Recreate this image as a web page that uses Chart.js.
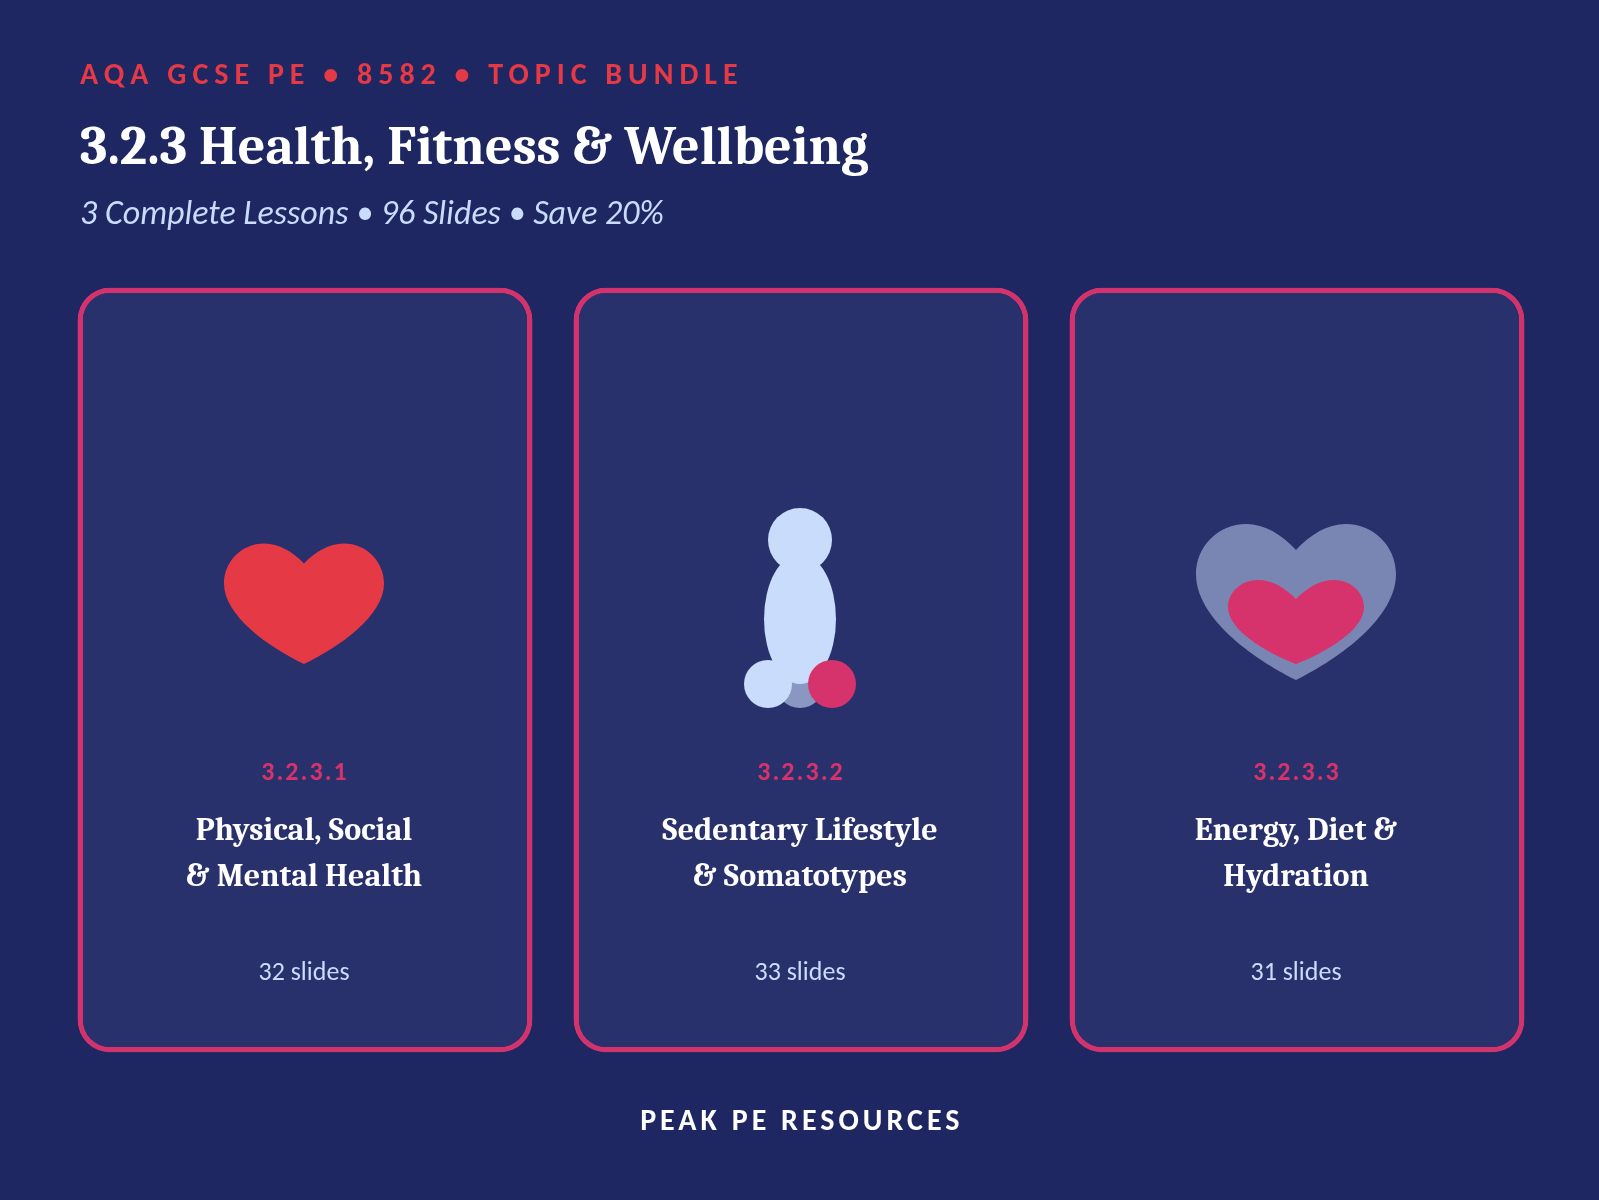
<!DOCTYPE html>
<html><head><meta charset="utf-8">
<style>html,body{margin:0;padding:0;background:#1E2761}canvas{display:block}</style>
<script src="https://cdn.jsdelivr.net/npm/chart.js@4/dist/chart.umd.js"></script>
</head><body>
<canvas id="c" width="1599" height="1200"></canvas>
<script>
const sectionCodes = ['3.2.3.1', '3.2.3.2', '3.2.3.3'];
const lessonTitles = [['Physical, Social', '& Mental Health'], ['Sedentary Lifestyle', '& Somatotypes'], ['Energy, Diet &', 'Hydration']];
const slideCounts = [32, 33, 31];
const cardsPerLesson = [1, 1, 1];
const eyebrowText = 'AQA GCSE PE • 8582 • TOPIC BUNDLE';
const titleText = '3.2.3 Health, Fitness & Wellbeing';
const subtitleText = '3 Complete Lessons • 96 Slides • Save 20%';
const footerText = 'PEAK PE RESOURCES';

const NAVY = '#1E2761', CARD = '#29316C', RED = '#E63946', PINK = '#D6336C', BORDER = '#D1336D', ICE = '#CADCFC', WHITE = '#FFFFFF';
const SANS = 'Carlito, Calibri, Lato, sans-serif', SERIF = 'Caladea, Cambria, "Liberation Serif", serif';

function text(ctx, str, x, y, font, color, align, spacing) {
  ctx.font = font; ctx.fillStyle = color; ctx.textAlign = align || 'left';
  ctx.textBaseline = 'alphabetic'; ctx.letterSpacing = (spacing || 0) + 'px';
  ctx.fillText(str, x, y);
  ctx.letterSpacing = '0px';
}
function heart(ctx, cx, top, hw, h, notch, lobe, widest, color) {
  const lx = hw * lobe, k = 0.5523;
  ctx.fillStyle = color; ctx.beginPath(); ctx.moveTo(cx, top + notch);
  ctx.bezierCurveTo(cx - lx * 0.28, top + notch * 0.42, cx - lx * 0.62, top, cx - lx, top);
  ctx.bezierCurveTo(cx - (lx + (hw - lx) * k), top, cx - hw, top + widest * (1 - k), cx - hw, top + widest);
  ctx.bezierCurveTo(cx - hw, top + h * 0.6, cx - hw * 0.44, top + h * 0.86, cx, top + h);
  ctx.bezierCurveTo(cx + hw * 0.44, top + h * 0.86, cx + hw, top + h * 0.6, cx + hw, top + widest);
  ctx.bezierCurveTo(cx + hw, top + widest * (1 - k), cx + (lx + (hw - lx) * k), top, cx + lx, top);
  ctx.bezierCurveTo(cx + lx * 0.62, top, cx + lx * 0.28, top + notch * 0.42, cx, top + notch);
  ctx.closePath(); ctx.fill();
}
function disc(ctx, x, y, rx, ry, color) {
  ctx.fillStyle = color; ctx.beginPath(); ctx.ellipse(x, y, rx, ry, 0, 0, Math.PI * 2); ctx.fill();
}
const icons = [
  (ctx, c) => heart(ctx, c, 543.5, 80, 120.5, 20, 0.5, 40, RED),
  (ctx, c) => {
    disc(ctx, c, 684, 24, 24, 'rgba(202,220,252,0.6)');
    disc(ctx, c, 540, 32, 32, ICE);
    disc(ctx, c, 619, 36, 65, ICE);
    disc(ctx, c - 32, 684, 24, 24, ICE);
    disc(ctx, c + 32, 684, 24, 24, PINK);
  },
  (ctx, c) => {
    heart(ctx, c, 524, 100, 156, 26, 0.5, 50, 'rgba(202,220,252,0.5)');
    heart(ctx, c, 580, 68, 84, 19, 0.56, 27, PINK);
  }
];

const pageArt = {
  id: 'pageArt',
  beforeDraw(chart) {
    const ctx = chart.ctx;
    ctx.save(); ctx.fillStyle = NAVY; ctx.fillRect(0, 0, chart.width, chart.height); ctx.restore();
  },
  afterDatasetsDraw(chart) {
    const ctx = chart.ctx, x = chart.scales.x;
    ctx.save();
    text(ctx, eyebrowText, 80, 84, 'bold 30px ' + SANS, RED, 'left', 6);
    text(ctx, titleText, 80, 164, 'bold 54px ' + SERIF, WHITE);
    text(ctx, subtitleText, 80, 224, 'italic 34px ' + SANS, ICE);
    sectionCodes.forEach((code, i) => {
      const mid = x.getPixelForValue(i), c = mid - 1;
      icons[i](ctx, c);
      text(ctx, code, mid, 780, 'bold 26px ' + SANS, PINK, 'center', 2);
      lessonTitles[i].forEach((line, j) => text(ctx, line, c, 840 + j * 46, 'bold 32px ' + SERIF, WHITE, 'center'));
      text(ctx, slideCounts[i] + ' slides', c, 980, '26px ' + SANS, ICE, 'center');
    });
    text(ctx, footerText, x.getPixelForValue(1) + 0.8, 1130, 'bold 30px ' + SANS, WHITE, 'center', 4);
    ctx.restore();
  }
};

new Chart(document.getElementById('c'), {
  type: 'bar',
  data: {
    labels: sectionCodes,
    datasets: [{
      data: cardsPerLesson,
      backgroundColor: CARD,
      borderColor: BORDER,
      borderWidth: 5.5,
      borderRadius: 32.5,
      borderSkipped: false,
      inflateAmount: 0,
      categoryPercentage: 1,
      barPercentage: 455 / 496
    }]
  },
  options: {
    responsive: false,
    devicePixelRatio: 1,
    animation: false,
    layout: { padding: { left: 57, right: 54, top: 287.5, bottom: 147.5 } },
    plugins: { legend: { display: false }, tooltip: { enabled: false }, title: { display: false } },
    scales: {
      x: { display: false, offset: true },
      y: { display: false, min: 0, max: 1 }
    }
  },
  plugins: [pageArt]
});
</script>
</body></html>
